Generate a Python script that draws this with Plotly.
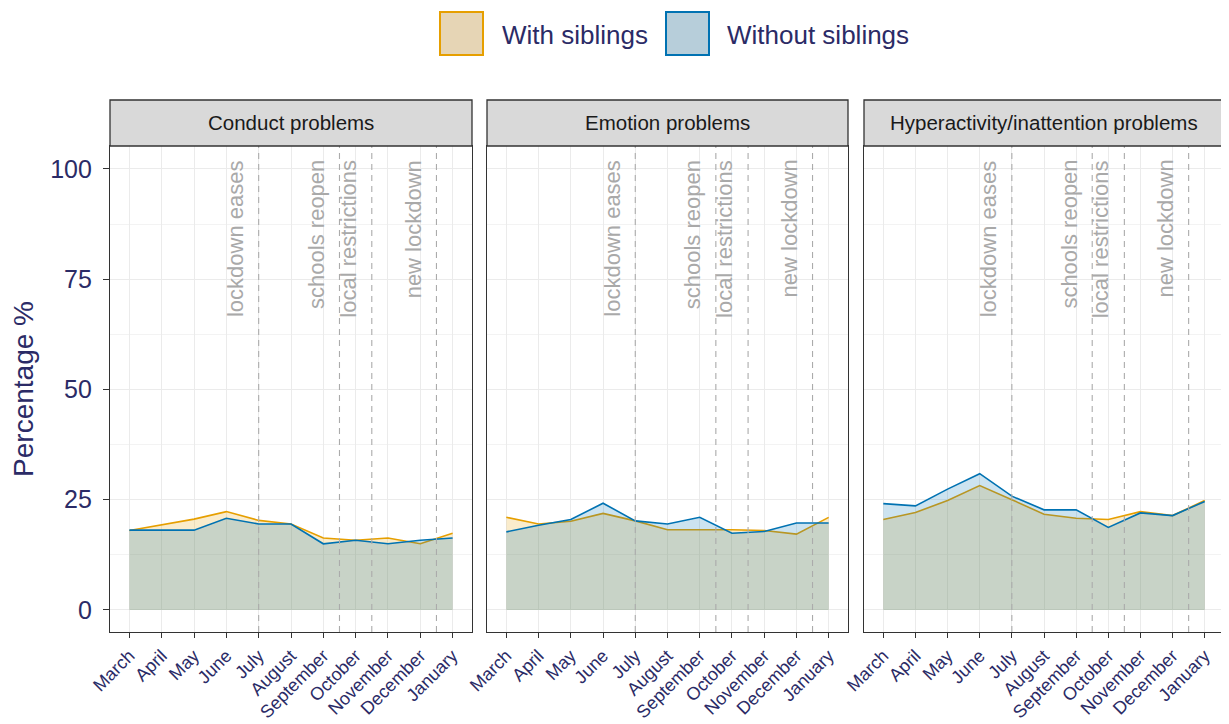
import plotly.graph_objects as go

# ---------------- data ----------------
months = ["March", "April", "May", "June", "July", "August",
          "September", "October", "November", "December", "January"]
panels = ["Conduct problems", "Emotion problems", "Hyperactivity/inattention problems"]
series_names = ["With siblings", "Without siblings"]

conduct_with = [18.0, 19.3, 20.6, 22.3, 20.3, 19.5, 16.3, 15.8, 16.3, 15.0, 17.4]
conduct_without = [18.1, 18.1, 18.1, 20.8, 19.5, 19.5, 15.0, 15.8, 15.0, 15.8, 16.3]
emotion_with = [21.0, 19.5, 20.1, 21.9, 20.2, 18.2, 18.2, 18.2, 18.0, 17.2, 21.0]
emotion_without = [17.7, 19.2, 20.5, 24.2, 20.2, 19.5, 21.0, 17.4, 17.8, 19.7, 19.7]
hyper_with = [20.5, 22.1, 24.8, 28.2, 25.0, 21.7, 20.8, 20.5, 22.3, 21.4, 24.8]
hyper_without = [24.1, 23.6, 27.4, 30.9, 25.8, 22.7, 22.7, 18.7, 22.0, 21.4, 24.6]

event_positions = [4.0, 6.5, 7.5, 9.5]
event_labels = ["lockdown eases", "schools reopen", "local restrictions", "new lockdown"]

y_ticks = [0, 25, 50, 75, 100]

# ---------------- styling ----------------
# page offset (the html body adds an 8px margin); all page pixel
# coordinates below are converted to figure coordinates.
OFF = 8
W, H = 1229, 724
PLOT_L, PLOT_R, PLOT_T, PLOT_B = 110, 1224, 146, 632   # page pixels
ML = PLOT_L - OFF
MT = PLOT_T - OFF
MR = W - (PLOT_R - OFF)
MB = H - (PLOT_B - OFF)
PW = PLOT_R - PLOT_L
PH = PLOT_B - PLOT_T

def px2x(px):
    return (px - PLOT_L) / PW

def px2y(py):
    return (PLOT_B - py) / PH

col_with = "#E69F00"
col_without = "#0072B2"
fill_with = "rgba(230,159,0,0.2)"
fill_without = "rgba(0,114,178,0.2)"
txt_col = "#2B2B66"
border_col = "#333333"
grid_col = "#EBEBEB"
minor_col = "#F3F3F3"
FONT = "Liberation Sans, Arial, sans-serif"

domains = [(px2x(110), px2x(472)), (px2x(487), px2x(848)), (px2x(864), px2x(1224))]
x_idx = list(range(len(months)))
data_with = [conduct_with, emotion_with, hyper_with]
data_without = [conduct_without, emotion_without, hyper_without]

fig = go.Figure()

for i in range(3):
    sfx = "" if i == 0 else str(i + 1)
    xa, ya = "x" + sfx, "y" + sfx
    fig.add_trace(go.Scatter(
        x=x_idx, y=data_with[i], mode="lines", fill="tozeroy",
        fillcolor=fill_with, line=dict(color=col_with, width=1.6),
        name=series_names[0], showlegend=False, xaxis=xa, yaxis=ya))
    fig.add_trace(go.Scatter(
        x=x_idx, y=data_without[i], mode="lines", fill="tozeroy",
        fillcolor=fill_without, line=dict(color=col_without, width=1.6),
        name=series_names[1], showlegend=False, xaxis=xa, yaxis=ya))

    axis_common = dict(showline=True, mirror=True, linecolor=border_col, linewidth=1.3,
                       showgrid=True, gridcolor=grid_col, gridwidth=1.2, zeroline=False,
                       automargin=False)
    fig.layout["xaxis" + sfx] = dict(
        domain=list(domains[i]), anchor=ya, range=[-0.6, 10.6],
        tickvals=x_idx, ticktext=months, tickangle=-45,
        ticks="outside", ticklen=5, tickcolor=border_col, tickwidth=1.2,
        tickfont=dict(family=FONT, size=18, color=txt_col), **axis_common)
    yax = dict(anchor=xa, range=[-5, 105.2], tickvals=y_ticks,
               minor=dict(dtick=12.5, showgrid=True, gridcolor=minor_col, gridwidth=1),
               **axis_common)
    if i == 0:
        yax.update(ticks="outside", ticklen=6, tickcolor=border_col, tickwidth=1.2,
                   ticklabelstandoff=6,
                   tickfont=dict(family=FONT, size=25, color=txt_col),
                   title=dict(text="Percentage %", standoff=8,
                              font=dict(family=FONT, size=28, color=txt_col)))
    else:
        yax.update(showticklabels=False, ticks="")
    fig.layout["yaxis" + sfx] = yax

    # event lines + labels
    for pos, lab in zip(event_positions, event_labels):
        fig.add_shape(type="line", xref=xa, yref=ya + " domain", x0=pos, x1=pos,
                      y0=0, y1=1, line=dict(color="#ABABAB", width=1.1, dash="6px,5px"))
        fig.add_annotation(xref=xa, yref=ya, x=pos, y=102.5, xshift=-23,
                           text=lab, textangle=-90, showarrow=False,
                           xanchor="center", yanchor="top",
                           font=dict(family=FONT, size=22, color="#A9A9A9"))

    # strip
    d0, d1 = domains[i]
    fig.add_shape(type="rect", xref="paper", yref="paper", x0=d0, x1=d1,
                  y0=1, y1=px2y(100), fillcolor="#D9D9D9",
                  line=dict(color=border_col, width=1.3), layer="above")
    fig.add_annotation(xref="paper", yref="paper", x=(d0 + d1) / 2, y=px2y(123),
                       text=panels[i], showarrow=False, xanchor="center", yanchor="middle",
                       font=dict(family=FONT, size=20.5, color="#1A1A1A"))

# legend (drawn manually for large square keys)
legend_keys = [(440, 483, 500, "#E6D5B5", col_with), (666, 709, 725, "#B7CEDA", col_without)]
for (k0, k1, tx, kfill, kline), name in zip(legend_keys, series_names):
    fig.add_shape(type="rect", xref="paper", yref="paper",
                  x0=px2x(k0), x1=px2x(k1), y0=px2y(55), y1=px2y(12),
                  fillcolor=kfill, line=dict(color=kline, width=2))
    fig.add_annotation(xref="paper", yref="paper", x=px2x(tx), y=px2y(35),
                       text=name, showarrow=False, xanchor="left", yanchor="middle",
                       font=dict(family=FONT, size=26, color=txt_col))

fig.update_layout(
    width=W, height=H, autosize=False,
    margin=dict(l=ML, r=MR, t=MT, b=MB, pad=0, autoexpand=False),
    paper_bgcolor="white", plot_bgcolor="white",
    showlegend=False,
    font=dict(family=FONT, color=txt_col),
)

fig.write_html("out.html")
